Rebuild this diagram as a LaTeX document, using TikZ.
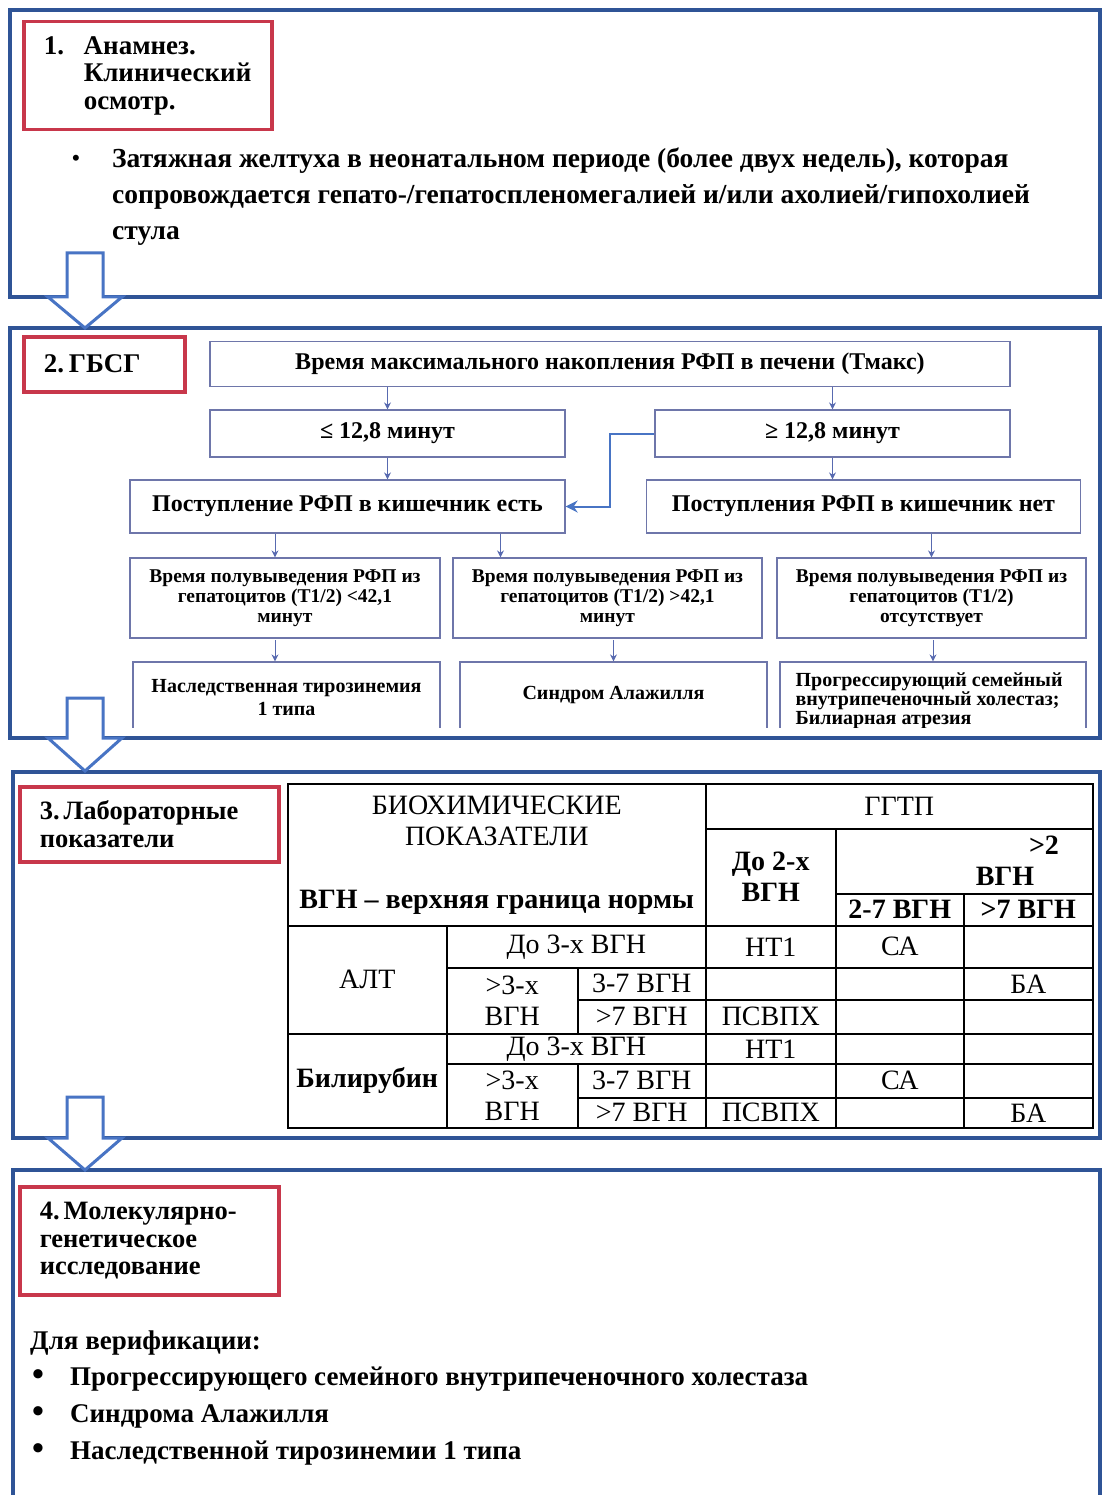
\documentclass[tikz,border=0pt]{standalone}
\usepackage{fontspec}
\setmainfont{Liberation Serif}
\usetikzlibrary{positioning}
\usetikzlibrary{arrows.meta}
\definecolor{frameblue}{RGB}{47, 84, 150}
\definecolor{boxred}{RGB}{200, 55, 75}
\definecolor{flowline}{RGB}{110, 118, 170}
\definecolor{arrowblue}{RGB}{72, 116, 196}
\definecolor{tipblue}{RGB}{88, 106, 176}

\tikzset{
  section/.style={draw=frameblue, line width=4pt},
  stagebox/.style={draw=boxred, line width=3.5pt, anchor=north west, align=left, inner ysep=0pt, inner xsep=20pt, font=\bfseries\fontsize{26.5}{27.5}\selectfont},
  flowbox/.style={draw=flowline, line width=1.2pt, align=center, inner sep=0pt, font=\bfseries\fontsize{24}{26}\selectfont},
  smallbox/.style={flowbox, font=\bfseries\fontsize{19.5}{20}\selectfont},
  flow/.style={draw=tipblue, line width=1pt, -{Stealth[length=7pt,width=7pt]}},
  bigarrow/.style={draw=arrowblue, line width=3pt, fill=white},
  cell/.style={draw=black, line width=1.5pt, anchor=north west, inner sep=0pt, align=center, font=\fontsize{28}{31}\selectfont},
  celltext/.style={inner sep=0pt, align=center, font=\fontsize{28}{31}\selectfont},
  plain/.style={inner sep=0pt, anchor=north west, align=left, font=\bfseries\fontsize{27.5}{36}\selectfont},
  dot/.style={inner sep=0pt, font=\bfseries\fontsize{34}{34}\selectfont},
}

\begin{document}
\begin{tikzpicture}
\useasboundingbox [fill=white] (0pt,0pt) rectangle (1105pt,-1495pt);

\draw [section] (10pt,-10pt) rectangle (1100pt,-297pt);
\draw [section] (10pt,-328pt) rectangle (1100pt,-738pt);
\draw [section] (13pt,-772pt) rectangle (1100pt,-1138pt);
\draw [section] (13pt,-1170pt) rectangle (1100pt,-1520pt);

\node (st1) [stagebox, text width=208pt, minimum height=108pt, font=\bfseries\fontsize{27}{27.5}\selectfont] at (22pt,-20pt) {\makebox[40pt][l]{1.}Анамнез.\\\hspace*{40pt}Клинический\\\hspace*{40pt}осмотр.};
\node (dot1) [inner sep=0pt, font=\bfseries\fontsize{22}{22}\selectfont] at (76pt,-160pt) {•};
\node (sympt) [plain] at (112pt,-148pt) {Затяжная желтуха в неонатальном периоде (более двух недель), которая\\сопровождается гепато-/гепатоспленомегалией и/или ахолией/гипохолией\\стула};

\node (st2) [stagebox, text width=121pt, minimum height=55pt, font=\bfseries\fontsize{27}{30}\selectfont] at (22pt,-335pt) {2.\hspace{5pt}ГБСГ};
\node (tmax) [flowbox, minimum width=800pt, minimum height=45pt] at (610pt,-364pt) {Время максимального накопления РФП в печени (Тмакс)};
\node (le) [flowbox, minimum width=355pt, minimum height=47pt] at (387.5pt,-433.5pt) {≤ 12,8 минут};
\node (ge) [flowbox, minimum width=355pt, minimum height=47pt] at (832.5pt,-433.5pt) {≥ 12,8 минут};
\node (yes) [flowbox, minimum width=435pt, minimum height=53pt] at (347.5pt,-506.5pt) {Поступление РФП в кишечник есть};
\node (no) [flowbox, minimum width=434pt, minimum height=53pt] at (863.5pt,-506.5pt) {Поступления РФП в кишечник нет};
\node (h1) [smallbox, minimum width=310pt, minimum height=80pt] at (285pt,-598pt) {Время полувыведения РФП из\\гепатоцитов (Т1/2) <42,1\\минут};
\node (h2) [smallbox, minimum width=309pt, minimum height=80pt] at (607.5pt,-598pt) {Время полувыведения РФП из\\гепатоцитов (Т1/2) >42,1\\минут};
\node (h3) [smallbox, minimum width=309pt, minimum height=80pt] at (931.5pt,-598pt) {Время полувыведения РФП из\\гепатоцитов (Т1/2)\\отсутствует};
\begin{scope}
\clip (0pt,-640pt) rectangle (1105pt,-727pt);
\node (d1) [smallbox, minimum width=307pt, minimum height=84pt] at (286.5pt,-704pt) {};
\node (d2) [smallbox, minimum width=307pt, minimum height=84pt] at (613.5pt,-704pt) {};
\node (d3) [smallbox, minimum width=306pt, minimum height=84pt] at (933pt,-704pt) {};
\node (d1t) [smallbox, draw=none, font=\bfseries\fontsize{20}{23}\selectfont] at (286.5pt,-698pt) {Наследственная тирозинемия\\1 типа};
\node (d2t) [smallbox, draw=none, font=\bfseries\fontsize{20}{20}\selectfont] at (613.5pt,-695pt) {Синдром Алажилля};
\node (d3t) [smallbox, draw=none, align=left, anchor=north west, font=\bfseries\fontsize{20}{19}\selectfont] at (795pt,-672pt) {Прогрессирующий семейный\\внутрипеченочный холестаз;\\Билиарная атрезия};
\draw [flow] ([xshift=-10pt]h1.south) -- ([xshift=-10pt]h1.south |- d1.north);
\draw [flow] (d2.north |- h2.south) -- (d2.north);
\draw [flow] (d3.north |- h3.south) -- (d3.north);
\end{scope}
\draw [flow] (le.north |- tmax.south) -- (le.north);
\draw [flow] (ge.north |- tmax.south) -- (ge.north);
\draw [flow] (le.south) -- (le.south |- yes.north);
\draw [flow] (ge.south) -- (ge.south |- no.north);
\draw [flow] ([xshift=-10pt]h1.north |- yes.south) -- ([xshift=-10pt]h1.north);
\draw [flow] ([xshift=-107pt]h2.north |- yes.south) -- ([xshift=-107pt]h2.north);
\draw [flow] (h3.north |- no.south) -- (h3.north);
\draw [draw=arrowblue, line width=2pt, -{Stealth[length=12pt,width=12pt]}] (ge.west) -- ++(-44pt,0pt) |- (yes.east);

\node (st3) [stagebox, text width=219pt, minimum height=75pt] at (18pt,-785pt) {3.\hspace{4pt}Лабораторные\\показатели};
\node (bio) [cell, minimum width=418pt, minimum height=142pt] at (287pt,-783pt) {БИОХИМИЧЕСКИЕ\\ПОКАЗАТЕЛИ\\[32pt]\textbf{ВГН – верхняя граница нормы}};
\node (ggtp) [cell, minimum width=387pt, minimum height=45pt] at (705pt,-783pt) {ГГТП};
\node (do2) [cell, minimum width=130pt, minimum height=97pt] at (705pt,-828pt) {\textbf{До 2-х}\\\textbf{ВГН}};
\node (gt2) [cell, minimum width=257pt, minimum height=65pt] at (835pt,-828pt) {};
\node (gt2a) [celltext, font=\bfseries\fontsize{28}{31}\selectfont] at (1044pt,-845pt) {>2};
\node (gt2b) [celltext, font=\bfseries\fontsize{28}{31}\selectfont] at (1005pt,-876pt) {ВГН};
\node (c27) [cell, minimum width=128pt, minimum height=32pt] at (835pt,-893pt) {\textbf{2-7 ВГН}};
\node (c7) [cell, minimum width=129pt, minimum height=32pt] at (963pt,-893pt) {\textbf{>7 ВГН}};

\node (alt) [cell, minimum width=159pt, minimum height=108pt] at (287pt,-925pt) {АЛТ};
\node (ado3) [cell, minimum width=259pt, minimum height=42pt] at (446pt,-925pt) {До 3-х ВГН};
\node (agt3) [cell, minimum width=131pt, minimum height=66pt] at (446pt,-967pt) {>3-х\\ВГН};
\node (a37) [cell, minimum width=128pt, minimum height=32pt] at (577pt,-967pt) {3-7 ВГН};
\node (a7) [cell, minimum width=128pt, minimum height=34pt] at (577pt,-999pt) {>7 ВГН};
\node (a11) [cell, minimum width=130pt, minimum height=42pt] at (705pt,-925pt) {НТ1};
\node (a12) [cell, minimum width=128pt, minimum height=42pt] at (835pt,-925pt) {СА};
\node (a13) [cell, minimum width=129pt, minimum height=42pt] at (963pt,-925pt) {};
\node (a21) [cell, minimum width=130pt, minimum height=32pt] at (705pt,-967pt) {};
\node (a22) [cell, minimum width=128pt, minimum height=32pt] at (835pt,-967pt) {};
\node (a23) [cell, minimum width=129pt, minimum height=32pt] at (963pt,-967pt) {БА};
\node (a31) [cell, minimum width=130pt, minimum height=34pt] at (705pt,-999pt) {ПСВПХ};
\node (a32) [cell, minimum width=128pt, minimum height=34pt] at (835pt,-999pt) {};
\node (a33) [cell, minimum width=129pt, minimum height=34pt] at (963pt,-999pt) {};

\node (bil) [cell, minimum width=159pt, minimum height=94pt] at (287pt,-1033pt) {\textbf{Билирубин}};
\node (bdo3) [cell, minimum width=259pt, minimum height=30pt] at (446pt,-1033pt) {До 3-х ВГН};
\node (bgt3) [cell, minimum width=131pt, minimum height=64pt] at (446pt,-1063pt) {>3-х\\ВГН};
\node (b37) [cell, minimum width=128pt, minimum height=34pt] at (577pt,-1063pt) {3-7 ВГН};
\node (b7) [cell, minimum width=128pt, minimum height=30pt] at (577pt,-1097pt) {>7 ВГН};
\node (b11) [cell, minimum width=130pt, minimum height=30pt] at (705pt,-1033pt) {НТ1};
\node (b12) [cell, minimum width=128pt, minimum height=30pt] at (835pt,-1033pt) {};
\node (b13) [cell, minimum width=129pt, minimum height=30pt] at (963pt,-1033pt) {};
\node (b21) [cell, minimum width=130pt, minimum height=34pt] at (705pt,-1063pt) {};
\node (b22) [cell, minimum width=128pt, minimum height=34pt] at (835pt,-1063pt) {СА};
\node (b23) [cell, minimum width=129pt, minimum height=34pt] at (963pt,-1063pt) {};
\node (b31) [cell, minimum width=130pt, minimum height=30pt] at (705pt,-1097pt) {ПСВПХ};
\node (b32) [cell, minimum width=128pt, minimum height=30pt] at (835pt,-1097pt) {};
\node (b33) [cell, minimum width=129pt, minimum height=30pt] at (963pt,-1097pt) {БА};

\node (st4) [stagebox, text width=219pt, minimum height=108pt] at (18pt,-1185pt) {4.\hspace{4pt}Молекулярно-\\генетическое\\исследование};
\node (verif) [plain, font=\bfseries\fontsize{27}{38}\selectfont] at (30pt,-1331pt) {Для верификации:};
\node (dot2) [dot] at (38pt,-1378pt) {•};
\node (dot3) [dot] at (38pt,-1415pt) {•};
\node (dot4) [dot] at (38pt,-1452pt) {•};
\node (pfic) [plain, anchor=west, font=\bfseries\fontsize{27}{30}\selectfont] at (70pt,-1379pt) {Прогрессирующего семейного внутрипеченочного холестаза};
\node (alag) [plain, anchor=west, font=\bfseries\fontsize{27}{30}\selectfont] at (70pt,-1416pt) {Синдрома Алажилля};
\node (tyr) [plain, anchor=west, font=\bfseries\fontsize{27}{30}\selectfont] at (70pt,-1453pt) {Наследственной тирозинемии 1 типа};

\draw [bigarrow] (67pt,-253pt) -- (103pt,-253pt) -- (103pt,-297pt) -- (122pt,-297pt) -- (85pt,-328pt) -- (48pt,-297pt) -- (67pt,-297pt) -- cycle;
\draw [bigarrow] (67pt,-698pt) -- (103pt,-698pt) -- (103pt,-738pt) -- (122pt,-738pt) -- (85pt,-771pt) -- (48pt,-738pt) -- (67pt,-738pt) -- cycle;
\draw [bigarrow] (67pt,-1097pt) -- (103pt,-1097pt) -- (103pt,-1138pt) -- (122pt,-1138pt) -- (85pt,-1170pt) -- (48pt,-1138pt) -- (67pt,-1138pt) -- cycle;
\end{tikzpicture}
\end{document}
